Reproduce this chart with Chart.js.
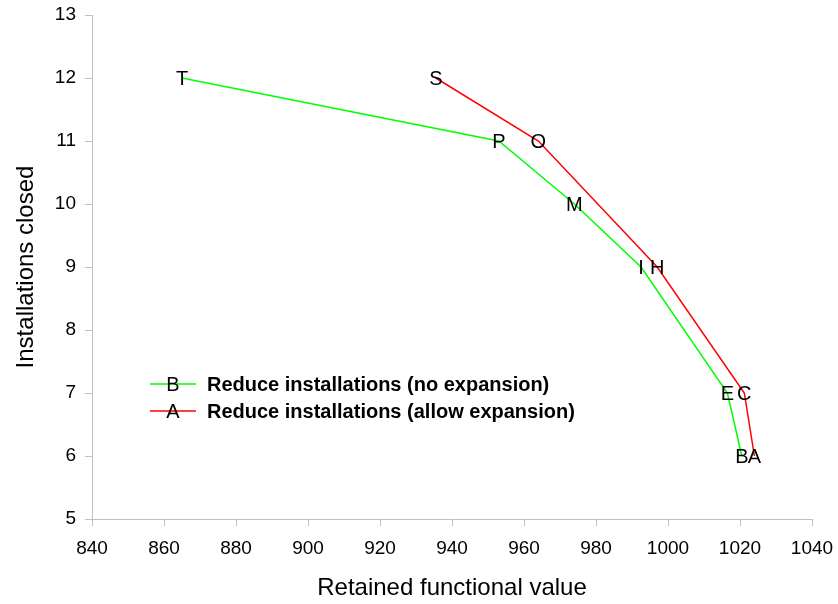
<!DOCTYPE html>
<html>
<head>
<meta charset="utf-8">
<script src="https://cdn.jsdelivr.net/npm/chart.js@4/dist/chart.umd.min.js"></script>
<style>
  html, body { margin: 0; padding: 0; background: #fff; }
  #wrap { width: 838px; height: 604px; }
</style>
</head>
<body>
<div id="wrap"><canvas id="chart" width="838" height="604"></canvas></div>
<script>
// no expansion (green)
const noExpLabels = ['T', 'P', 'M', 'I', 'E', 'B'];
const noExpValue = [865, 953, 974, 992.5, 1016.5, 1020.5];
const noExpClosed = [12, 11, 10, 9, 7, 6];

// allow expansion (red)
const allowExpLabels = ['S', 'O', 'H', 'C', 'A'];
const allowExpValue = [935.5, 964, 997, 1021.2, 1024];
const allowExpClosed = [12, 11, 9, 7, 6];

const seriesNames = ['Reduce installations (no expansion)', 'Reduce installations (allow expansion)'];
const seriesKeys = ['B', 'A'];
const seriesColors = ['#00ff00', '#ff0000'];

const FONT = 'Arial, "Liberation Sans", sans-serif';
const AXIS_COLOR = '#c0c0c0';

function toPoints(xs, ys) {
  return xs.map((x, i) => ({ x: x, y: ys[i] }));
}

// letters on each point + legend drawn inside the plot
const pointLetters = {
  id: 'pointLetters',
  afterDatasetsDraw(chart) {
    const ctx = chart.ctx;
    ctx.save();
    ctx.fillStyle = '#000';
    ctx.textAlign = 'center';
    ctx.textBaseline = 'middle';
    ctx.font = '20px ' + FONT;
    chart.data.datasets.forEach((ds, di) => {
      const meta = chart.getDatasetMeta(di);
      meta.data.forEach((el, i) => {
        ctx.fillText(ds.letters[i], el.x, el.y + 1);
      });
    });

    // legend
    const lx = 150, ly = 384, gap = 27;
    seriesNames.forEach((name, i) => {
      const y = ly + i * gap;
      ctx.strokeStyle = seriesColors[i];
      ctx.lineWidth = 1.5;
      ctx.beginPath();
      ctx.moveTo(lx, y);
      ctx.lineTo(lx + 46, y);
      ctx.stroke();
      ctx.textAlign = 'center';
      ctx.font = '20px ' + FONT;
      ctx.fillText(seriesKeys[i], lx + 23, y + 1);
      ctx.textAlign = 'left';
      ctx.font = 'bold 20px ' + FONT;
      ctx.fillText(name, lx + 57, y + 1);
    });
    ctx.restore();
  }
};

new Chart(document.getElementById('chart').getContext('2d'), {
  type: 'scatter',
  data: {
    datasets: [
      {
        label: seriesNames[0],
        data: toPoints(noExpValue, noExpClosed),
        letters: noExpLabels,
        showLine: true,
        borderColor: seriesColors[0],
        borderWidth: 1.5,
        pointRadius: 0,
        fill: false
      },
      {
        label: seriesNames[1],
        data: toPoints(allowExpValue, allowExpClosed),
        letters: allowExpLabels,
        showLine: true,
        borderColor: seriesColors[1],
        borderWidth: 1.5,
        pointRadius: 0,
        fill: false
      }
    ]
  },
  options: {
    responsive: false,
    animation: false,
    events: [],
    layout: { padding: { top: 15, right: 26, left: 0, bottom: 0 } },
    plugins: {
      legend: { display: false },
      tooltip: { enabled: false }
    },
    scales: {
      x: {
        type: 'linear',
        min: 840,
        max: 1040,
        ticks: { stepSize: 20, color: '#000', font: { family: FONT, size: 19 }, padding: 11, maxRotation: 0,
          callback: v => String(v) },
        grid: { drawOnChartArea: false, color: AXIS_COLOR, tickLength: 7 },
        border: { color: AXIS_COLOR, width: 1 },
        title: { display: true, text: 'Retained functional value', color: '#000', font: { family: FONT, size: 24 }, padding: { top: 0, bottom: 1 } },
        afterFit(scale) {
          scale.height = 85;
          scale.paddingLeft = 0;
          scale.paddingRight = 0;
        }
      },
      y: {
        type: 'linear',
        min: 5,
        max: 13,
        ticks: { stepSize: 1, color: '#000', font: { family: FONT, size: 19 }, padding: 9,
          callback: v => String(v) },
        grid: { drawOnChartArea: false, color: AXIS_COLOR, tickLength: 7 },
        border: { color: AXIS_COLOR, width: 1 },
        title: { display: true, text: 'Installations closed', color: '#000', font: { family: FONT, size: 24 }, padding: { top: 12, bottom: 0 } },
        afterFit(scale) {
          scale.width = 92;
          scale.paddingTop = 0;
          scale.paddingBottom = 0;
        }
      }
    }
  },
  plugins: [pointLetters]
});
</script>
</body>
</html>
